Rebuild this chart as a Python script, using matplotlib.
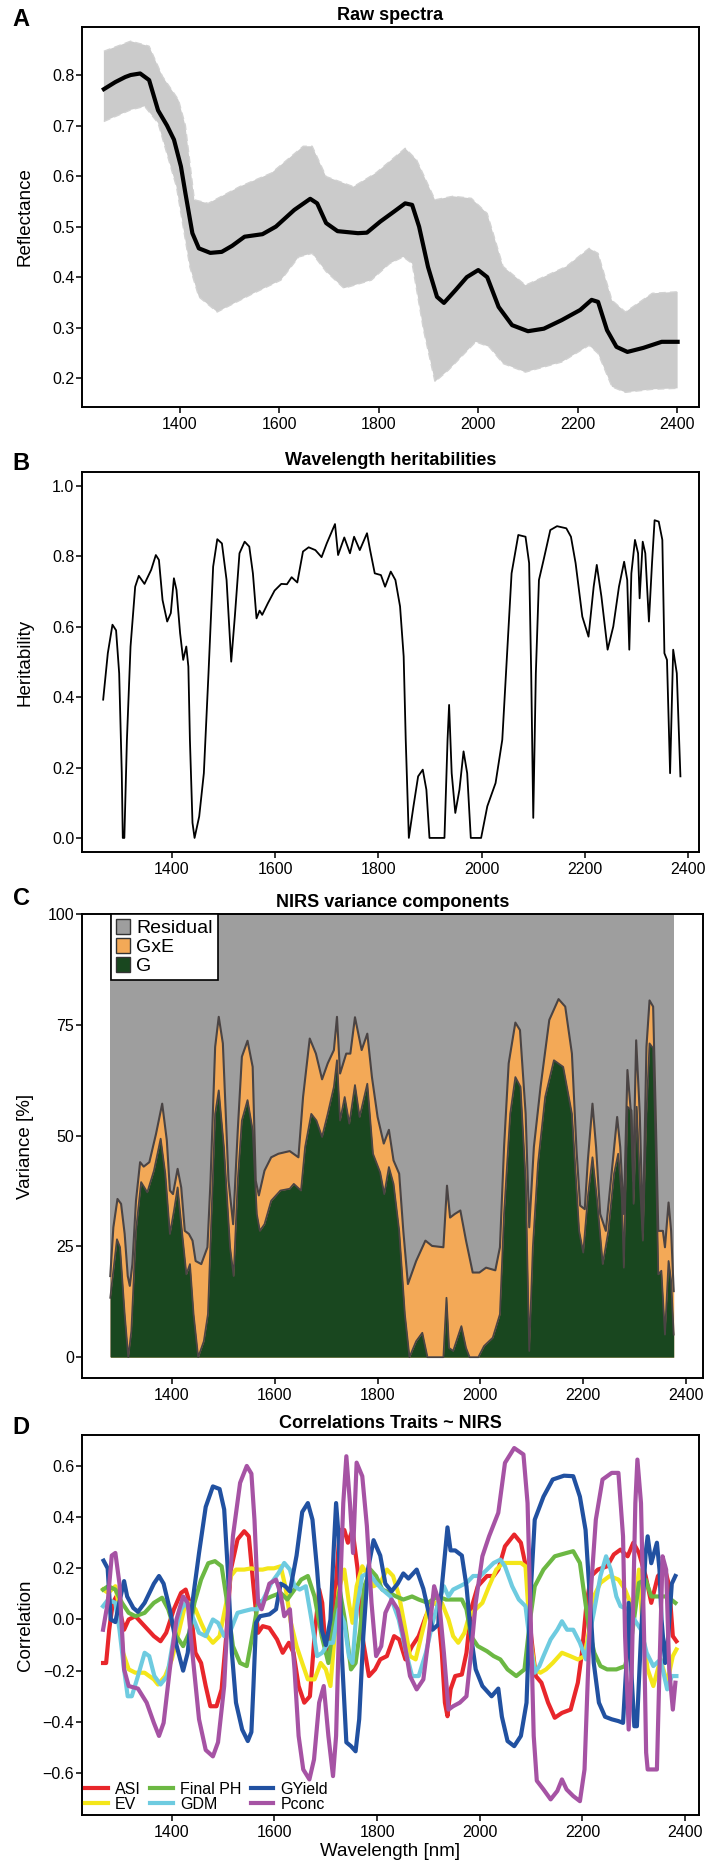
import numpy as np
import matplotlib.pyplot as plt
from matplotlib.patches import Patch

plt.rcParams['font.family'] = ['Liberation Sans', 'DejaVu Sans']
plt.rcParams['axes.unicode_minus'] = True

# ---------------- A: raw spectra (mean + envelope of all spectra)
a_nm = [1247, 1270, 1290, 1301, 1320, 1338, 1356, 1374, 1388, 1402, 1411, 1425, 1438, 1461,
        1484, 1505, 1530, 1566, 1593, 1630, 1662, 1676, 1694, 1717, 1758, 1776, 1803, 1831,
        1853, 1867, 1881, 1899, 1917, 1931, 1954, 1977, 2000, 2018, 2041, 2068, 2100, 2132,
        2168, 2205, 2228, 2241, 2259, 2278, 2300, 2332, 2369, 2401]
a_mean = [0.772, 0.786, 0.796, 0.800, 0.803, 0.790, 0.730, 0.700, 0.672, 0.619, 0.566, 0.487,
          0.457, 0.448, 0.450, 0.462, 0.480, 0.485, 0.500, 0.533, 0.555, 0.546, 0.507, 0.491,
          0.487, 0.488, 0.510, 0.530, 0.546, 0.543, 0.500, 0.420, 0.361, 0.349, 0.374, 0.400,
          0.414, 0.400, 0.341, 0.305, 0.293, 0.298, 0.315, 0.335, 0.355, 0.351, 0.295, 0.262,
          0.252, 0.260, 0.272, 0.272]
up_nm = [1247, 1301, 1338, 1365, 1397, 1411, 1429, 1457, 1520, 1584, 1648, 1666, 1694, 1749,
         1794, 1853, 1876, 1913, 1949, 1986, 2018, 2050, 2095, 2177, 2223, 2241, 2269, 2296,
         2350, 2401]
up_val = [0.847, 0.867, 0.857, 0.797, 0.751, 0.700, 0.553, 0.546, 0.579, 0.606, 0.659, 0.659,
          0.599, 0.579, 0.606, 0.655, 0.632, 0.553, 0.560, 0.556, 0.526, 0.421, 0.384, 0.421,
          0.457, 0.447, 0.354, 0.331, 0.368, 0.371]
lo_nm = [1247, 1301, 1329, 1356, 1393, 1420, 1438, 1475, 1548, 1603, 1639, 1666, 1694, 1730,
         1785, 1822, 1849, 1867, 1890, 1913, 1940, 1995, 2022, 2050, 2095, 2168, 2223, 2241,
         2269, 2296, 2350, 2401]
lo_val = [0.708, 0.731, 0.738, 0.705, 0.579, 0.420, 0.361, 0.331, 0.368, 0.394, 0.440, 0.447,
          0.411, 0.378, 0.394, 0.427, 0.440, 0.427, 0.295, 0.193, 0.216, 0.272, 0.262, 0.229,
          0.212, 0.232, 0.265, 0.249, 0.183, 0.172, 0.178, 0.180]

# ---------------- B: wavelength heritabilities
b_nm = [1267, 1276, 1285, 1292, 1298, 1303, 1305, 1308, 1313, 1320, 1329, 1336, 1347, 1360,
        1369, 1375, 1382, 1391, 1398, 1404, 1409, 1416, 1422, 1428, 1432, 1435, 1440, 1444,
        1453, 1462, 1471, 1480, 1488, 1497, 1506, 1515, 1522, 1531, 1541, 1550, 1557, 1564,
        1570, 1575, 1586, 1599, 1612, 1623, 1632, 1643, 1654, 1665, 1678, 1690, 1700, 1716,
        1722, 1734, 1745, 1753, 1764, 1778, 1784, 1793, 1805, 1813, 1824, 1833, 1842, 1849,
        1853, 1859, 1868, 1877, 1886, 1893, 1899, 1928, 1934, 1937, 1942, 1949, 1957, 1965,
        1972, 1979, 1999, 2011, 2027, 2040, 2049, 2058, 2071, 2085, 2092, 2096, 2100, 2105,
        2111, 2120, 2133, 2146, 2164, 2173, 2182, 2195, 2207, 2217, 2223, 2232, 2244, 2255,
        2266, 2276, 2282, 2286, 2290, 2297, 2303, 2306, 2312, 2317, 2324, 2330, 2335, 2343,
        2350, 2354, 2359, 2365, 2371, 2378, 2385]
b_h2 = [0.393, 0.525, 0.606, 0.590, 0.468, 0.185, 0.0, 0.0, 0.279, 0.544, 0.714, 0.745, 0.722,
        0.762, 0.804, 0.790, 0.676, 0.615, 0.639, 0.738, 0.705, 0.582, 0.506, 0.544, 0.487,
        0.279, 0.043, 0.0, 0.061, 0.184, 0.468, 0.771, 0.849, 0.837, 0.733, 0.501, 0.629,
        0.809, 0.842, 0.828, 0.752, 0.624, 0.646, 0.634, 0.667, 0.703, 0.722, 0.721, 0.741,
        0.726, 0.814, 0.826, 0.818, 0.798, 0.837, 0.892, 0.804, 0.854, 0.809, 0.856, 0.818,
        0.866, 0.818, 0.752, 0.747, 0.714, 0.757, 0.733, 0.658, 0.516, 0.279, 0.0, 0.090,
        0.175, 0.194, 0.137, 0.0, 0.0, 0.279, 0.378, 0.184, 0.071, 0.137, 0.246, 0.184, 0.0,
        0.0, 0.090, 0.156, 0.279, 0.516, 0.752, 0.861, 0.856, 0.781, 0.468, 0.057, 0.468,
        0.733, 0.790, 0.875, 0.886, 0.880, 0.856, 0.781, 0.629, 0.572, 0.714, 0.776, 0.686,
        0.535, 0.601, 0.714, 0.785, 0.733, 0.535, 0.752, 0.847, 0.809, 0.681, 0.842, 0.809,
        0.615, 0.781, 0.903, 0.899, 0.847, 0.525, 0.506, 0.184, 0.535, 0.468, 0.175]

# ---------------- C: variance components [%]
tot_nm = [1280, 1286, 1294, 1301, 1308, 1314, 1318, 1323, 1330, 1338, 1345, 1356, 1369, 1381,
          1390, 1396, 1402, 1411, 1418, 1425, 1433, 1440, 1446, 1457, 1469, 1475, 1484, 1491,
          1499, 1510, 1519, 1528, 1536, 1547, 1557, 1563, 1569, 1580, 1593, 1607, 1629, 1646,
          1655, 1668, 1680, 1692, 1703, 1715, 1721, 1727, 1739, 1747, 1756, 1769, 1780, 1789,
          1800, 1812, 1822, 1831, 1842, 1850, 1859, 1875, 1893, 1906, 1928, 1935, 1941, 1950,
          1961, 1972, 1985, 1998, 2011, 2029, 2038, 2046, 2055, 2068, 2077, 2088, 2095, 2104,
          2117, 2134, 2152, 2165, 2178, 2187, 2194, 2203, 2209, 2218, 2225, 2233, 2244, 2257,
          2266, 2272, 2279, 2286, 2293, 2297, 2303, 2310, 2316, 2323, 2329, 2336, 2341, 2346,
          2355, 2359, 2366, 2371, 2376]
tot_pct = [18.3, 29.3, 35.7, 34.6, 27.8, 18.3, 16.1, 21.0, 35.3, 44.0, 43.0, 44.0, 50.4, 57.2,
           48.9, 37.6, 36.8, 42.5, 38.3, 28.5, 27.8, 26.3, 21.7, 21.0, 24.8, 39.8, 70.0, 76.8,
           70.8, 39.8, 30.0, 51.2, 67.8, 71.4, 65.5, 39.8, 36.5, 42.1, 45.1, 45.9, 46.5, 45.1,
           58.7, 71.9, 68.5, 62.7, 66.3, 69.3, 76.8, 64.0, 68.5, 68.5, 76.7, 69.3, 73.0, 63.2,
           54.2, 48.2, 51.3, 44.4, 41.4, 28.5, 16.5, 21.7, 26.3, 25.1, 24.8, 38.7, 31.5, 32.3,
           33.1, 26.3, 19.1, 19.1, 20.2, 19.6, 24.8, 47.4, 66.3, 75.5, 73.8, 54.9, 29.3, 47.4,
           61.0, 76.1, 80.8, 79.1, 68.5, 46.6, 34.2, 33.4, 44.4, 57.2, 47.4, 32.3, 28.5, 43.6,
           54.2, 47.4, 32.3, 64.8, 54.9, 39.8, 71.5, 54.9, 28.5, 70.0, 80.5, 79.1, 54.9, 28.5,
           28.5, 24.8, 34.9, 28.5, 14.9]
g_nm = [1280, 1293, 1299, 1308, 1315, 1321, 1330, 1340, 1352, 1365, 1378, 1387, 1396, 1404,
        1411, 1418, 1428, 1435, 1442, 1451, 1462, 1470, 1477, 1484, 1491, 1501, 1513, 1520,
        1528, 1536, 1547, 1557, 1565, 1571, 1580, 1593, 1611, 1629, 1637, 1651, 1659, 1671,
        1681, 1692, 1703, 1715, 1721, 1727, 1736, 1745, 1756, 1765, 1780, 1791, 1805, 1813,
        1822, 1831, 1842, 1853, 1862, 1875, 1887, 1897, 1928, 1934, 1939, 1947, 1963, 1972,
        1979, 1996, 2007, 2024, 2038, 2046, 2058, 2068, 2078, 2088, 2095, 2102, 2112, 2126,
        2143, 2161, 2178, 2192, 2200, 2209, 2218, 2227, 2238, 2249, 2260, 2268, 2275, 2279,
        2286, 2294, 2298, 2304, 2310, 2316, 2323, 2329, 2336, 2341, 2346, 2352, 2359, 2366,
        2371, 2376]
g_pct = [13.4, 26.6, 24.8, 9.7, 0.0, 5.9, 28.5, 39.5, 37.2, 42.1, 49.3, 41.4, 27.8, 33.1, 38.3,
         30.0, 18.7, 21.0, 9.7, 0.0, 3.6, 9.7, 32.3, 54.9, 60.2, 47.4, 24.8, 18.3, 39.8, 53.4,
         58.0, 51.2, 32.3, 28.5, 30.0, 35.3, 37.6, 38.0, 39.1, 37.6, 47.4, 54.9, 53.4, 49.7,
         54.9, 61.0, 67.0, 53.4, 58.7, 52.7, 61.4, 54.2, 61.7, 45.9, 41.7, 36.8, 42.9, 39.1,
         28.5, 9.7, 0.0, 3.6, 5.5, 0.0, 0.0, 13.4, 2.1, 1.4, 7.0, 2.1, 0.0, 0.0, 2.5, 4.4, 9.7,
         32.3, 54.9, 63.2, 61.0, 39.8, 1.4, 24.8, 43.6, 58.7, 67.0, 65.5, 54.9, 28.5, 23.6,
         36.1, 45.1, 35.3, 21.0, 28.5, 41.4, 45.9, 36.1, 20.2, 56.5, 55.7, 34.6, 56.5, 39.8,
         26.3, 54.9, 70.8, 69.7, 47.4, 18.7, 19.5, 5.1, 21.7, 17.2, 5.1]

# ---------------- D: correlations traits ~ NIRS
asi_nm = [1266, 1272, 1278, 1285, 1292, 1298, 1307, 1316, 1329, 1347, 1365, 1378, 1389, 1404,
          1418, 1427, 1435, 1446, 1457, 1466, 1475, 1487, 1497, 1506, 1515, 1528, 1541, 1550,
          1559, 1568, 1577, 1590, 1605, 1616, 1628, 1637, 1647, 1658, 1669, 1678, 1687, 1693,
          1700, 1709, 1718, 1727, 1736, 1743, 1752, 1762, 1771, 1784, 1796, 1806, 1819, 1833,
          1843, 1855, 1868, 1881, 1895, 1908, 1917, 1926, 1932, 1937, 1943, 1952, 1965, 1974,
          1983, 1996, 2014, 2027, 2036, 2049, 2067, 2080, 2091, 2100, 2109, 2120, 2133, 2146,
          2160, 2177, 2191, 2199, 2208, 2217, 2230, 2248, 2261, 2274, 2288, 2299, 2310, 2323,
          2334, 2347, 2361, 2369, 2376, 2383]
asi_r = [-0.17, -0.17, -0.04, 0.065, 0.09, 0.04, -0.04, 0.0, 0.013, -0.026, -0.065, -0.085,
         -0.052, 0.04, 0.104, 0.117, 0.065, -0.13, -0.17, -0.26, -0.339, -0.339, -0.273,
         -0.065, 0.195, 0.313, 0.345, 0.325, 0.13, -0.052, -0.026, -0.033, -0.078, -0.13,
         -0.091, -0.13, -0.26, -0.325, -0.3, -0.065, 0.117, 0.065, -0.13, -0.065, 0.09, 0.35,
         0.35, 0.3, 0.35, 0.195, -0.065, -0.221, -0.195, -0.156, -0.143, -0.065, -0.078,
         -0.156, -0.104, -0.065, 0.013, 0.065, 0.065, -0.13, -0.325, -0.378, -0.273, -0.221,
         -0.215, -0.13, 0.04, 0.13, 0.17, 0.17, 0.195, 0.286, 0.332, 0.3, 0.195, -0.065,
         -0.221, -0.247, -0.325, -0.384, -0.365, -0.352, -0.247, -0.13, 0.065, 0.17, 0.195,
         0.208, 0.254, 0.273, 0.247, 0.3, 0.26, 0.17, 0.065, 0.17, 0.195, 0.13, -0.065, -0.085]
ev_nm = [1266, 1276, 1290, 1296, 1305, 1316, 1329, 1347, 1365, 1373, 1387, 1400, 1413, 1427,
         1435, 1446, 1457, 1469, 1480, 1493, 1506, 1515, 1525, 1541, 1555, 1566, 1577, 1587,
         1599, 1612, 1621, 1632, 1643, 1654, 1665, 1678, 1690, 1700, 1709, 1716, 1725, 1736,
         1745, 1752, 1760, 1771, 1782, 1793, 1806, 1819, 1831, 1843, 1855, 1864, 1875, 1886,
         1899, 1912, 1926, 1939, 1948, 1958, 1970, 1979, 1992, 2005, 2018, 2032, 2045, 2063,
         2080, 2089, 2098, 2107, 2118, 2129, 2142, 2160, 2176, 2191, 2204, 2213, 2222, 2235,
         2253, 2270, 2283, 2301, 2310, 2318, 2327, 2338, 2352, 2365, 2376, 2383]
ev_r = [0.117, 0.104, 0.13, 0.065, -0.13, -0.195, -0.208, -0.208, -0.234, -0.254, -0.221,
        -0.156, -0.052, 0.065, 0.065, 0.04, -0.013, -0.065, -0.091, -0.065, 0.065, 0.17, 0.195,
        0.195, 0.2, 0.195, 0.195, 0.2, 0.2, 0.208, 0.13, -0.013, -0.104, -0.17, -0.234, -0.234,
        -0.17, -0.195, -0.26, -0.091, 0.117, 0.195, 0.065, -0.013, 0.13, 0.208, 0.17, 0.13,
        0.143, 0.195, 0.17, 0.09, -0.04, -0.143, -0.156, -0.065, 0.04, 0.065, 0.065, 0.0,
        -0.065, -0.091, -0.052, 0.013, 0.04, 0.065, 0.13, 0.195, 0.221, 0.221, 0.221, 0.208,
        -0.065, -0.195, -0.208, -0.195, -0.17, -0.13, -0.143, -0.156, -0.143, -0.04, 0.09,
        0.143, 0.17, 0.156, 0.117, 0.026, 0.195, -0.065, -0.195, -0.26, -0.156, -0.247, -0.143,
        -0.117]
ph_nm = [1266, 1276, 1290, 1303, 1316, 1329, 1347, 1365, 1381, 1393, 1409, 1422, 1434, 1444,
         1457, 1471, 1484, 1497, 1506, 1519, 1533, 1546, 1559, 1568, 1581, 1594, 1612, 1625,
         1639, 1652, 1665, 1678, 1692, 1705, 1716, 1727, 1737, 1749, 1758, 1767, 1775, 1787,
         1798, 1810, 1824, 1837, 1851, 1868, 1881, 1899, 1917, 1934, 1952, 1965, 1974, 1983,
         1996, 2014, 2027, 2040, 2054, 2071, 2087, 2098, 2107, 2124, 2146, 2169, 2182, 2195,
         2204, 2213, 2223, 2235, 2248, 2266, 2283, 2296, 2310, 2323, 2334, 2352, 2365, 2381]
ph_r = [0.117, 0.13, 0.117, 0.065, 0.026, 0.013, 0.026, 0.065, 0.085, 0.04, -0.065, -0.104,
        -0.052, 0.065, 0.156, 0.22, 0.228, 0.208, 0.09, -0.104, -0.17, -0.182, -0.04, 0.065,
        0.078, 0.09, 0.104, 0.078, 0.117, 0.156, 0.17, 0.09, -0.065, -0.17, 0.0, 0.117, 0.0,
        -0.195, -0.17, -0.04, 0.13, 0.195, 0.17, 0.117, 0.104, 0.09, 0.078, 0.09, 0.078, 0.065,
        0.09, 0.078, 0.078, 0.078, 0.04, -0.065, -0.104, -0.124, -0.143, -0.156, -0.195,
        -0.221, -0.195, 0.0, 0.13, 0.195, 0.247, 0.26, 0.267, 0.221, 0.09, -0.04, -0.13,
        -0.182, -0.195, -0.195, -0.182, -0.065, 0.143, 0.156, 0.09, 0.09, 0.09, 0.065]
gdm_nm = [1266, 1276, 1290, 1298, 1307, 1314, 1322, 1334, 1347, 1356, 1366, 1378, 1391, 1404,
          1418, 1427, 1440, 1453, 1466, 1480, 1490, 1502, 1515, 1528, 1541, 1555, 1568, 1581,
          1594, 1608, 1619, 1630, 1639, 1649, 1661, 1672, 1683, 1693, 1705, 1714, 1725, 1736,
          1745, 1752, 1760, 1771, 1784, 1798, 1810, 1826, 1842, 1855, 1868, 1881, 1895, 1908,
          1919, 1930, 1939, 1948, 1961, 1974, 1987, 2001, 2014, 2027, 2040, 2049, 2063, 2076,
          2089, 2096, 2107, 2116, 2124, 2138, 2151, 2160, 2170, 2182, 2195, 2207, 2213, 2222,
          2235, 2246, 2255, 2266, 2274, 2288, 2301, 2314, 2325, 2338, 2352, 2365, 2374, 2383]
gdm_r = [0.052, 0.078, 0.065, -0.04, -0.195, -0.3, -0.3, -0.221, -0.13, -0.143, -0.221, -0.254,
         -0.221, -0.065, 0.04, 0.065, 0.013, -0.052, -0.065, 0.0, -0.013, -0.065, -0.04, 0.026,
         0.033, 0.04, 0.04, 0.09, 0.143, 0.182, 0.221, 0.195, 0.13, 0.117, 0.13, 0.0, -0.143,
         -0.13, -0.091, -0.091, 0.04, -0.013, -0.143, -0.17, 0.04, 0.17, 0.182, 0.143, 0.117,
         0.09, 0.0, -0.117, -0.221, -0.221, -0.13, -0.013, 0.065, 0.13, 0.09, 0.117, 0.13,
         0.143, 0.17, 0.17, 0.195, 0.221, 0.234, 0.208, 0.13, 0.078, 0.052, -0.065, -0.208,
         -0.182, -0.143, -0.078, -0.04, -0.007, -0.04, -0.04, -0.091, -0.156, -0.065, 0.026,
         0.17, 0.247, 0.195, 0.09, 0.052, 0.04, 0.0, -0.04, -0.13, -0.182, -0.156, -0.273,
         -0.221, -0.221]
gy_nm = [1267, 1275, 1281, 1290, 1298, 1307, 1313, 1325, 1334, 1347, 1365, 1375, 1384, 1396,
         1409, 1422, 1431, 1440, 1453, 1466, 1480, 1493, 1502, 1509, 1517, 1525, 1537, 1548,
         1555, 1559, 1564, 1572, 1590, 1603, 1612, 1621, 1630, 1643, 1654, 1665, 1674, 1683,
         1692, 1700, 1709, 1716, 1720, 1725, 1731, 1740, 1749, 1758, 1765, 1773, 1782, 1793,
         1806, 1816, 1828, 1840, 1851, 1861, 1877, 1890, 1899, 1908, 1919, 1928, 1937, 1943,
         1952, 1965, 1974, 1983, 1992, 2005, 2023, 2036, 2043, 2054, 2067, 2080, 2091, 2098,
         2107, 2124, 2142, 2164, 2182, 2195, 2206, 2213, 2222, 2232, 2244, 2257, 2270, 2279,
         2285, 2290, 2295, 2301, 2306, 2314, 2323, 2327, 2334, 2345, 2350, 2354, 2361, 2367,
         2374, 2381]
gy_r = [0.23, 0.20, 0.0, -0.01, 0.07, 0.15, 0.09, 0.045, 0.03, 0.065, 0.14, 0.17, 0.14, 0.04,
        -0.1, -0.2, -0.13, 0.065, 0.26, 0.44, 0.52, 0.51, 0.43, 0.195, -0.13, -0.325, -0.43,
        -0.475, -0.44, -0.26, -0.013, 0.013, 0.02, 0.04, 0.14, 0.13, 0.11, 0.25, 0.42, 0.455,
        0.39, 0.195, -0.04, -0.1, 0.0, 0.3, 0.455, 0.325, -0.13, -0.48, -0.495, -0.515, -0.39,
        -0.065, 0.195, 0.31, 0.25, 0.14, 0.11, 0.14, 0.18, 0.16, 0.195, 0.12, 0.04, -0.04,
        -0.02, 0.17, 0.36, 0.27, 0.27, 0.25, 0.13, -0.065, -0.195, -0.26, -0.3, -0.27, -0.38,
        -0.475, -0.495, -0.455, -0.325, 0.065, 0.39, 0.48, 0.547, 0.562, 0.56, 0.48, 0.35,
        0.13, -0.17, -0.325, -0.38, -0.39, -0.397, -0.404, -0.195, 0.065, -0.195, -0.417,
        -0.417, -0.065, 0.26, 0.325, 0.22, 0.3, 0.195, 0.0, -0.17, -0.065, 0.14, 0.17]
pc_nm = [1266, 1275, 1283, 1290, 1298, 1307, 1316, 1334, 1351, 1365, 1375, 1384, 1396, 1409,
         1422, 1431, 1440, 1453, 1466, 1480, 1490, 1502, 1510, 1519, 1533, 1546, 1555, 1561,
         1568, 1575, 1581, 1590, 1603, 1612, 1619, 1630, 1639, 1647, 1656, 1668, 1677, 1687,
         1696, 1705, 1714, 1720, 1727, 1734, 1740, 1747, 1753, 1760, 1771, 1780, 1789, 1798,
         1808, 1816, 1828, 1840, 1851, 1864, 1877, 1890, 1899, 1911, 1921, 1930, 1939, 1948,
         1961, 1974, 1983, 1992, 2005, 2018, 2036, 2049, 2067, 2085, 2093, 2100, 2105, 2111,
         2124, 2138, 2151, 2160, 2169, 2182, 2195, 2204, 2211, 2217, 2226, 2239, 2257, 2270,
         2279, 2283, 2290, 2296, 2303, 2307, 2314, 2320, 2324, 2327, 2336, 2345, 2350, 2356,
         2363, 2369, 2376, 2381]
pc_r = [-0.04, 0.065, 0.25, 0.26, 0.14, -0.195, -0.26, -0.27, -0.325, -0.404, -0.455, -0.404,
        -0.195, 0.0, 0.09, 0.065, -0.13, -0.39, -0.51, -0.535, -0.48, -0.26, 0.065, 0.325,
        0.534, 0.6, 0.57, 0.39, 0.065, 0.04, 0.078, 0.14, 0.156, 0.1, 0.013, 0.04, -0.195,
        -0.455, -0.586, -0.625, -0.547, -0.325, -0.26, -0.455, -0.612, -0.455, 0.065, 0.455,
        0.638, 0.455, 0.26, 0.613, 0.56, 0.365, 0.065, -0.143, -0.104, 0.026, 0.078, 0.04,
        -0.065, -0.221, -0.273, -0.234, -0.091, 0.13, 0.065, -0.13, -0.352, -0.339, -0.325,
        -0.3, -0.13, 0.065, 0.247, 0.325, 0.417, 0.612, 0.67, 0.645, 0.455, -0.065, -0.455,
        -0.63, -0.664, -0.703, -0.67, -0.625, -0.664, -0.69, -0.71, -0.586, -0.195, 0.13, 0.39,
        0.547, 0.573, 0.573, 0.325, -0.065, -0.43, -0.195, 0.455, 0.625, 0.455, -0.065, -0.52,
        -0.586, -0.586, -0.586, -0.195, 0.247, 0.195, -0.195, -0.352, -0.247]

traits = ['ASI', 'EV', 'Final PH', 'GDM', 'GYield', 'Pconc']
trait_cols = ['#e8262b', '#f4e61a', '#6cb843', '#6ecbe0', '#2151a1', '#a653a4']
trait_x = [asi_nm, ev_nm, ph_nm, gdm_nm, gy_nm, pc_nm]
trait_y = [asi_r, ev_r, ph_r, gdm_r, gy_r, pc_r]

W, H = 710, 1867
fig = plt.figure(figsize=(W / 100, H / 100), dpi=100)


def box(l, t, r, b):
    return [l / W, 1 - b / H, (r - l) / W, (b - t) / H]


def style(ax, ylab, title, letter, ly):
    for s in ax.spines.values():
        s.set_linewidth(1.4)
    ax.tick_params(direction='out', length=4.5, width=1.1, labelsize=11.5)
    ax.tick_params(axis='y', pad=1)
    ax.tick_params(axis='x', pad=2.5)
    ax.set_xticks([1400, 1600, 1800, 2000, 2200, 2400])
    ax.set_ylabel(ylab, fontsize=13.5)
    ax.set_title(title, fontsize=13, fontweight='bold', pad=5)
    fig.text(21 / W, 1 - ly / H, letter, fontsize=17, fontweight='bold',
             ha='center', va='center')


# A: grey band = polygon between upper and lower envelope
axA = fig.add_axes(box(82, 27, 699, 407))
band_x = np.concatenate([up_nm, lo_nm[::-1]])
band_y = np.concatenate([up_val, lo_val[::-1]])
axA.fill(band_x, band_y, color='#cbcbcb', lw=0)
axA.plot(up_nm, up_val, color='#d2d2d2', lw=1, ls=(0, (5, 3)))
axA.plot(lo_nm, lo_val, color='#d2d2d2', lw=1, ls=(0, (5, 3)))
axA.plot(a_nm, a_mean, color='black', lw=3, solid_joinstyle='round')
axA.set_xlim(1203, 2444)
axA.set_ylim(0.143, 0.895)
axA.set_yticks([0.2, 0.3, 0.4, 0.5, 0.6, 0.7, 0.8])
style(axA, 'Reflectance', 'Raw spectra', 'A', 19)
axA.yaxis.set_label_coords(-0.078, 0.5)

# B
axB = fig.add_axes(box(82, 472, 699, 852))
axB.plot(b_nm, b_h2, color='black', lw=1.3)
axB.set_xlim(1226, 2421)
axB.set_ylim(-0.040, 1.040)
axB.set_yticks([0.0, 0.2, 0.4, 0.6, 0.8, 1.0])
axB.set_yticklabels(['0.0', '0.2', '0.4', '0.6', '0.8', '1.0'])
style(axB, 'Heritability', 'Wavelength heritabilities', 'B', 463)
axB.yaxis.set_label_coords(-0.078, 0.5)

# C
axC = fig.add_axes(box(82, 914, 703, 1378))
outline = '#4a4444'
axC.fill_between([tot_nm[0], tot_nm[-1]], 0, 100, color='#9e9e9e', lw=0)
axC.fill_between(tot_nm, tot_pct, 0, color='#f3a957', lw=0)
axC.fill_between(g_nm, g_pct, 0, color='#19471f', lw=0)
axC.plot(tot_nm, tot_pct, color=outline, lw=1.5)
axC.plot(g_nm, g_pct, color=outline, lw=1.3)
axC.set_xlim(1225, 2433)
axC.set_ylim(-4.7, 100)
axC.set_yticks([0, 25, 50, 75, 100])
style(axC, 'Variance [%]', 'NIRS variance components', 'C', 898)
axC.yaxis.set_label_coords(-0.077, 0.5)
handles = [Patch(facecolor='#9e9e9e', edgecolor='#333333', label='Residual'),
           Patch(facecolor='#f3a957', edgecolor='#333333', label='GxE'),
           Patch(facecolor='#19471f', edgecolor='#333333', label='G')]
legC = axC.legend(handles=handles, loc='upper left', bbox_to_anchor=(29 / 621, 1.0),
                  fontsize=14, frameon=True, fancybox=False, borderaxespad=0,
                  handlelength=0.75, handleheight=0.8, handletextpad=0.3,
                  labelspacing=0.05, borderpad=0.25)
legC.get_frame().set_edgecolor('black')
legC.get_frame().set_linewidth(1.2)
legC.get_frame().set_alpha(1)

# D
axD = fig.add_axes(box(82, 1435, 699, 1815))
for name, c, xs, ys in zip(traits, trait_cols, trait_x, trait_y):
    axD.plot(xs, ys, color=c, lw=3, label=name, solid_joinstyle='round')
axD.set_xlim(1225, 2427)
axD.set_ylim(-0.764, 0.721)
axD.set_yticks([-0.6, -0.4, -0.2, 0.0, 0.2, 0.4, 0.6])
style(axD, 'Correlation', 'Correlations Traits ~ NIRS', 'D', 1427)
axD.yaxis.set_label_coords(-0.078, 0.5)
axD.set_xlabel('Wavelength [nm]', fontsize=13.5, labelpad=2)
axD.legend(loc='lower left', ncol=3, fontsize=11.5, frameon=False, borderaxespad=0.1,
           borderpad=0.1, handlelength=1.4, handletextpad=0.45, columnspacing=0.6,
           labelspacing=0.0)

fig.savefig('out.png', dpi=100)
